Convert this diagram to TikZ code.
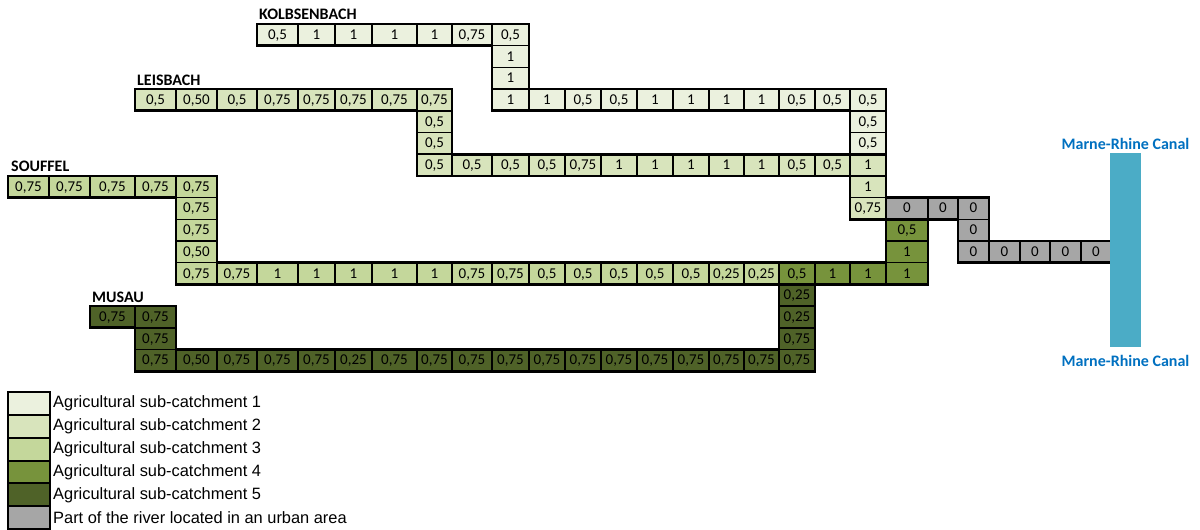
\documentclass[tikz,border=0pt]{standalone}
\usepackage{fontspec}
\setmainfont{Carlito}
\newfontfamily\legfont{Liberation Sans}
\definecolor{cA}{HTML}{EBF1DE}
\definecolor{cB}{HTML}{D8E4BC}
\definecolor{cC}{HTML}{C4D79B}
\definecolor{cD}{HTML}{77933C}
\definecolor{cE}{HTML}{4F6228}
\definecolor{cU}{HTML}{A6A6A6}
\definecolor{canal}{HTML}{4BACC6}
\definecolor{canaltext}{HTML}{0070C0}
\def\colx{{8,49,90,135,176,217,257,298,335,372,417,452,492,529,565,601,637,673,709,744,779,815,850,886,928,958,989,1020,1050,1081,1111}}
\newcommand\cc[5]{%
  \pgfmathsetmacro\cxa{\colx[#3]}%
  \pgfmathsetmacro\cxb{\colx[#3+1]}%
  \pgfmathsetmacro\cyt{24+21.7*#4}%
  \pgfmathsetmacro\cwid{\cxb-\cxa}%
  \node[cellbox, fill=#2, minimum width=\cwid pt] (#1) at (\cxa,-\cyt) {#5};%
}
\newcommand\crow[5]{%
  \foreach \t [count=\i from 0] in {#5} {%
    \pgfmathtruncatemacro\cidx{#3+\i}%
    \cc{#1-#4-\cidx}{#2}{\cidx}{#4}{\t}%
  }%
}
\begin{document}
\begin{tikzpicture}[x=1pt,y=1pt,
  cellbox/.style={draw=black, line width=1.5pt, inner sep=0pt, outer sep=0pt,
    minimum height=21.7pt, anchor=north west, text height=10pt, text depth=1pt,
    font=\fontsize{15}{15}\selectfont},
  outline/.style={draw=black, line width=2.7pt, line join=miter},
  rivername/.style={anchor=west, inner sep=0pt, font=\bfseries\fontsize{16}{16}\selectfont},
  canallabel/.style={inner sep=0pt, text=canaltext, font=\bfseries\fontsize{16}{16}\selectfont},
  legbox/.style={draw=black, line width=2pt, anchor=north west, minimum width=42pt,
    minimum height=22.85pt, inner sep=0pt, outer sep=0pt},
  legtext/.style={anchor=west, inner sep=0pt, font=\legfont\fontsize{16.4}{16.4}\selectfont}]
\useasboundingbox (0,0) rectangle (1200,-530);

% ---------- Kolbsenbach (sub-catchment 1)
\crow{k}{cA}{6}{0}{{0,5},1,1,1,1,{0,75},{0,5}}
\cc{k-1-12}{cA}{12}{1}{1}
\cc{k-2-12}{cA}{12}{2}{1}
\crow{k}{cA}{12}{3}{1,1,{0,5},{0,5},1,1,1,1,{0,5},{0,5},{0,5}}
\cc{k-4-22}{cA}{22}{4}{0,5}
\cc{k-5-22}{cA}{22}{5}{0,5}
\draw[outline] (257,-24) -- (529,-24) -- (529,-89.1) -- (886,-89.1) -- (886,-154.2)
  -- (850,-154.2) -- (850,-110.8) -- (492,-110.8) -- (492,-45.7) -- (257,-45.7) -- cycle;

% ---------- Leisbach (sub-catchment 2)
\crow{l}{cB}{3}{3}{{0,5},{0,50},{0,5},{0,75},{0,75},{0,75},{0,75},{0,75}}
\cc{l-4-10}{cB}{10}{4}{0,5}
\cc{l-5-10}{cB}{10}{5}{0,5}
\crow{l}{cB}{10}{6}{{0,5},{0,5},{0,5},{0,5},{0,75},1,1,1,1,1,{0,5},{0,5},1}
\cc{l-7-22}{cB}{22}{7}{1}
\cc{l-8-22}{cB}{22}{8}{0,75}
\draw[outline] (135,-89.1) -- (452,-89.1) -- (452,-154.2) -- (886,-154.2) -- (886,-219.3)
  -- (850,-219.3) -- (850,-175.9) -- (417,-175.9) -- (417,-110.8) -- (135,-110.8) -- cycle;

% ---------- Souffel (sub-catchment 3)
\crow{s}{cC}{0}{7}{{0,75},{0,75},{0,75},{0,75},{0,75}}
\cc{s-8-4}{cC}{4}{8}{0,75}
\cc{s-9-4}{cC}{4}{9}{0,75}
\cc{s-10-4}{cC}{4}{10}{0,50}
\crow{s}{cC}{4}{11}{{0,75},{0,75},1,1,1,1,1,{0,75},{0,75},{0,5},{0,5},{0,5},{0,5},{0,5},{0,25},{0,25}}
\draw[outline] (8,-175.9) -- (217,-175.9) -- (217,-262.7) -- (779,-262.7) -- (779,-284.4)
  -- (176,-284.4) -- (176,-197.6) -- (8,-197.6) -- cycle;

% ---------- Sub-catchment 4
\cc{g-9-23}{cD}{23}{9}{0,5}
\cc{g-10-23}{cD}{23}{10}{1}
\crow{g}{cD}{20}{11}{{0,5},1,1,1}
\draw[outline] (886,-219.3) -- (928,-219.3) -- (928,-284.4) -- (779,-284.4) -- (779,-262.7)
  -- (886,-262.7) -- cycle;

% ---------- Urban part
\crow{u}{cU}{23}{8}{0,0,0}
\cc{u-9-25}{cU}{25}{9}{0}
\crow{u}{cU}{25}{10}{0,0,0,0,0}
\draw[outline] (886,-197.6) -- (989,-197.6) -- (989,-241) -- (1111,-241) -- (1111,-262.7)
  -- (958,-262.7) -- (958,-219.3) -- (886,-219.3) -- cycle;

% ---------- Musau (sub-catchment 5)
\cc{m-12-20}{cE}{20}{12}{0,25}
\cc{m-13-20}{cE}{20}{13}{0,25}
\cc{m-14-20}{cE}{20}{14}{0,75}
\crow{m}{cE}{2}{13}{{0,75},{0,75}}
\cc{m-14-3}{cE}{3}{14}{0,75}
\crow{m}{cE}{3}{15}{{0,75},{0,50},{0,75},{0,75},{0,75},{0,25},{0,75},{0,75},{0,75},{0,75},{0,75},{0,75},{0,75},{0,75},{0,75},{0,75},{0,75},{0,75}}
\draw[outline] (90,-306.1) -- (176,-306.1) -- (176,-349.5) -- (779,-349.5) -- (779,-284.4)
  -- (815,-284.4) -- (815,-371.2) -- (135,-371.2) -- (135,-327.8) -- (90,-327.8) -- cycle;

% ---------- river names
\node[rivername] (nk) at (259,-14.5) {KOLBSENBACH};
\node[rivername] (nl) at (137,-80) {LEISBACH};
\node[rivername] (ns) at (11,-166) {SOUFFEL};
\node[rivername] (nm) at (92,-297.5) {MUSAU};

% ---------- canal
\node[fill=canal, draw=none, inner sep=0pt, outer sep=0pt, anchor=north west,
  minimum width=31pt, minimum height=194pt] (canal) at (1110,-153.3) {};
\node[canallabel] (ct) at (1125.5,-144) {Marne-Rhine Canal};
\node[canallabel] (cb) at (1125.5,-361) {Marne-Rhine Canal};

% ---------- legend
\node[legbox, fill=cA] (lg1) at (8,-392) {};
\node[legbox, fill=cB] (lg2) at (8,-414.85) {};
\node[legbox, fill=cC] (lg3) at (8,-437.7) {};
\node[legbox, fill=cD] (lg4) at (8,-460.55) {};
\node[legbox, fill=cE] (lg5) at (8,-483.4) {};
\node[legbox, fill=cU] (lg6) at (8,-506.25) {};
\node[legtext] (lt1) at ([xshift=3pt]lg1.east) {Agricultural sub-catchment 1};
\node[legtext] (lt2) at ([xshift=3pt]lg2.east) {Agricultural sub-catchment 2};
\node[legtext] (lt3) at ([xshift=3pt]lg3.east) {Agricultural sub-catchment 3};
\node[legtext] (lt4) at ([xshift=3pt]lg4.east) {Agricultural sub-catchment 4};
\node[legtext] (lt5) at ([xshift=3pt]lg5.east) {Agricultural sub-catchment 5};
\node[legtext] (lt6) at ([xshift=3pt]lg6.east) {Part of the river located in an urban area};
\end{tikzpicture}
\end{document}
